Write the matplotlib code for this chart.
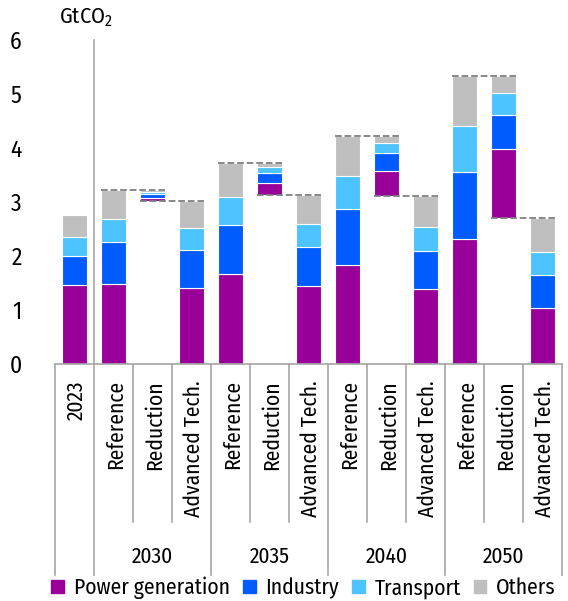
import matplotlib
matplotlib.use('Agg')
import matplotlib.pyplot as plt
from matplotlib import font_manager
from matplotlib.patches import Patch
import numpy as np

# narrow font (regular weight) if one is installed, else plain Liberation Sans a bit smaller
regular = set(f.name for f in font_manager.fontManager.ttflist
              if f.style == 'normal' and f.weight in (400, 'normal', 'regular', 'book'))
fam, fs = 'Liberation Sans', 12.5
for n in ['Open Sans Condensed', 'Fira Sans Condensed', 'PT Sans Narrow', 'Asap Condensed', 'Archivo Narrow']:
    if n in regular:
        fam, fs = n, 15.5
        break
plt.rcParams['font.family'] = [fam, 'DejaVu Sans']
plt.rcParams['font.weight'] = 'normal'
plt.rcParams['mathtext.fontset'] = 'custom'
plt.rcParams['mathtext.rm'] = fam

labels = ['2023',
          'Reference', 'Reduction', 'Advanced Tech.',
          'Reference', 'Reduction', 'Advanced Tech.',
          'Reference', 'Reduction', 'Advanced Tech.',
          'Reference', 'Reduction', 'Advanced Tech.']
groups = ['2030', '2035', '2040', '2050']
sectors = ['Power generation', 'Industry', 'Transport', 'Others']
colors = ['#990099', '#005cff', '#4dc3ff', '#bfbfbf']

power     = [1.46, 1.48, 0.06, 1.40, 1.67, 0.22, 1.44, 1.83, 0.46, 1.39, 2.31, 1.28, 1.04]
industry  = [0.54, 0.78, 0.07, 0.72, 0.90, 0.19, 0.73, 1.04, 0.34, 0.70, 1.25, 0.63, 0.61]
transport = [0.35, 0.43, 0.04, 0.39, 0.52, 0.10, 0.42, 0.61, 0.18, 0.45, 0.85, 0.41, 0.42]
others    = [0.41, 0.53, 0.03, 0.51, 0.63, 0.08, 0.54, 0.74, 0.13, 0.57, 0.92, 0.31, 0.63]

data = np.array([power, industry, transport, others])
totals = data.sum(axis=0)
x = np.arange(len(labels))

# reduction bars float on top of the advanced tech bar
base = np.zeros(len(labels))
for i, lab in enumerate(labels):
    if lab == 'Reduction':
        base[i] = totals[i + 1]

fig = plt.figure(figsize=(5.68, 6.01), dpi=100)
ax = fig.add_axes([55/568, 1-364/601, 507/568, 324/601])

w = 0.65
bottom = base.copy()
for k in range(4):
    ax.bar(x, data[k], w, bottom=bottom, color=colors[k], edgecolor='white', linewidth=0.8, zorder=2)
    bottom = bottom + data[k]

# dashed connectors
for i, lab in enumerate(labels):
    if lab == 'Reduction':
        ax.plot([i - 1 - w/2, i + w/2], [totals[i - 1], totals[i - 1]], ls='--', color='#7f7f7f', lw=1.3, zorder=3)
        ax.plot([i - w/2, i + 1 + w/2], [base[i], base[i]], ls='--', color='#7f7f7f', lw=1.3, zorder=3)

ax.set_xlim(-0.5, 12.5)
ax.set_ylim(0, 6)
ax.set_yticks(range(7))
ax.tick_params(axis='y', length=0, labelsize=fs + 1.5, pad=24)
ax.set_xticks([])
for s in ['left', 'right', 'top']:
    ax.spines[s].set_visible(False)
ax.spines['bottom'].set_color('#a6a6a6')
ax.spines['bottom'].set_linewidth(1.2)

ax.text(-0.4, 6.2, 'GtCO$_\\mathregular{2}$', fontsize=fs + 0.5, ha='left', va='bottom')

# category labels and separators below axis
for i, lab in enumerate(labels):
    ax.text(i + 0.05, -0.3, lab, rotation=90, ha='center', va='top', fontsize=fs)
lc = '#a6a6a6'
for b in np.arange(-0.5, 13, 1):
    if b in (-0.5, 0.5, 3.5, 6.5, 9.5, 12.5):
        y0 = -3.9
    else:
        y0 = -2.93
    ax.plot([b, b], [0, y0], color=lc, lw=1.2, clip_on=False)
ax.plot([0.5, 0.5], [0, 6], color=lc, lw=1.2, clip_on=False)
for g, name in enumerate(groups):
    ax.text(2 + 3*g, -3.57, name, ha='center', va='center', fontsize=fs)

handles = [Patch(color=c) for c in colors]
fig.legend(handles, sectors, loc='center left', bbox_to_anchor=(0.09, 1-588/601), ncol=4,
           frameon=False, fontsize=fs, handlelength=0.6, handleheight=0.6,
           handletextpad=0.45, columnspacing=0.6, borderaxespad=0, borderpad=0)

fig.savefig('out.png', dpi=100)
